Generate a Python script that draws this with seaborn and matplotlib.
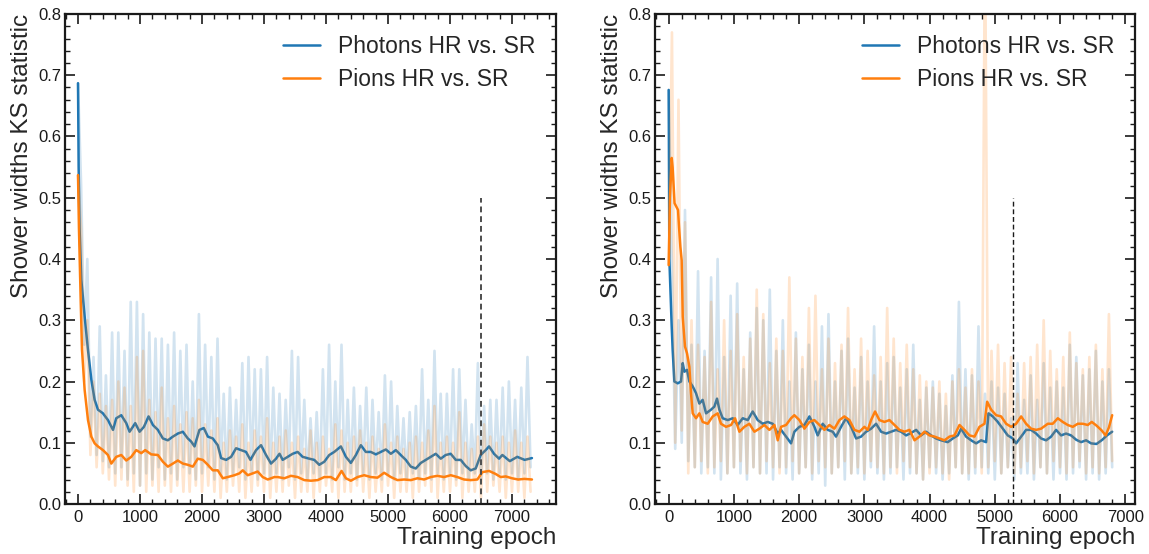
import numpy as np
import pandas as pd
import matplotlib
matplotlib.use("Agg")
import matplotlib.pyplot as plt
import seaborn as sns
from matplotlib.ticker import MultipleLocator

# ---------------- data ----------------
series_labels = ["Photons HR vs. SR", "Pions HR vs. SR"]
raw_step = 50  # epochs between consecutive raw samples (trough, peak, trough, ...)

# Left panel raw values: troughs at 0,100,...; peaks at 50,150,...
left_photon_troughs = [
    0.687, 0.26, 0.11, 0.08, 0.07, 0.06, 0.05, 0.06, 0.04, 0.05,
    0.03, 0.05, 0.04, 0.06, 0.04, 0.05, 0.04, 0.06, 0.05, 0.04,
    0.05, 0.06, 0.04, 0.05, 0.04, 0.05, 0.06, 0.04, 0.05, 0.04,
    0.05, 0.04, 0.05, 0.04, 0.06, 0.04, 0.05, 0.04, 0.05, 0.04,
    0.05, 0.04, 0.06, 0.04, 0.05, 0.04, 0.05, 0.04, 0.05, 0.04,
    0.05, 0.04, 0.05, 0.04, 0.05, 0.04, 0.05, 0.04, 0.05, 0.04,
    0.05, 0.04, 0.05, 0.04, 0.05, 0.04, 0.05, 0.04, 0.05, 0.04,
    0.05, 0.04, 0.05, 0.06]
left_photon_peaks = [
    0.52, 0.40, 0.24, 0.29, 0.21, 0.28, 0.28, 0.25, 0.33, 0.33,
    0.31, 0.28, 0.27, 0.27, 0.26, 0.28, 0.25, 0.26, 0.20, 0.31,
    0.26, 0.24, 0.27, 0.18, 0.19, 0.17, 0.23, 0.24, 0.22, 0.22,
    0.24, 0.19, 0.18, 0.17, 0.25, 0.24, 0.17, 0.14, 0.15, 0.22,
    0.26, 0.20, 0.26, 0.17, 0.19, 0.16, 0.19, 0.17, 0.15, 0.21,
    0.20, 0.16, 0.14, 0.15, 0.16, 0.22, 0.17, 0.25, 0.18, 0.18,
    0.22, 0.22, 0.17, 0.13, 0.23, 0.16, 0.17, 0.17, 0.19, 0.20,
    0.17, 0.19, 0.24]
left_pion_troughs = [
    0.537, 0.20, 0.08, 0.06, 0.05, 0.04, 0.03, 0.04, 0.03, 0.02,
    0.03, 0.02, 0.03, 0.02, 0.03, 0.02, 0.03, 0.02, 0.02, 0.03,
    0.02, 0.03, 0.02, 0.01, 0.02, 0.03, 0.02, 0.01, 0.02, 0.03,
    0.02, 0.01, 0.02, 0.02, 0.03, 0.01, 0.02, 0.02, 0.01, 0.02,
    0.03, 0.02, 0.01, 0.02, 0.02, 0.03, 0.02, 0.01, 0.02, 0.02,
    0.03, 0.01, 0.02, 0.02, 0.01, 0.02, 0.03, 0.02, 0.01, 0.02,
    0.02, 0.03, 0.01, 0.02, 0.02, 0.01, 0.02, 0.03, 0.02, 0.01,
    0.02, 0.02, 0.01, 0.02]
left_pion_peaks = [
    0.45, 0.30, 0.20, 0.18, 0.16, 0.17, 0.20, 0.19, 0.16, 0.24,
    0.25, 0.17, 0.15, 0.19, 0.14, 0.16, 0.13, 0.15, 0.14, 0.17,
    0.13, 0.12, 0.14, 0.10, 0.12, 0.11, 0.13, 0.10, 0.12, 0.11,
    0.14, 0.10, 0.11, 0.12, 0.10, 0.11, 0.09, 0.12, 0.10, 0.11,
    0.09, 0.13, 0.12, 0.10, 0.11, 0.12, 0.10, 0.11, 0.09, 0.13,
    0.10, 0.11, 0.09, 0.10, 0.11, 0.10, 0.12, 0.16, 0.10, 0.11,
    0.10, 0.15, 0.10, 0.09, 0.11, 0.13, 0.11, 0.10, 0.11, 0.10,
    0.12, 0.10, 0.11]

# Right panel raw values
right_photon_troughs = [
    0.676, 0.09, 0.10, 0.07, 0.06, 0.05, 0.06, 0.05, 0.04, 0.05,
    0.06, 0.05, 0.04, 0.06, 0.05, 0.05, 0.04, 0.06, 0.05, 0.04,
    0.05, 0.06, 0.04, 0.05, 0.03, 0.05, 0.06, 0.04, 0.05, 0.05,
    0.04, 0.06, 0.05, 0.04, 0.05, 0.06, 0.04, 0.05, 0.05, 0.04,
    0.06, 0.05, 0.04, 0.05, 0.06, 0.05, 0.04, 0.05, 0.06, 0.05,
    0.04, 0.05, 0.06, 0.04, 0.05, 0.05, 0.04, 0.06, 0.05, 0.04,
    0.05, 0.04, 0.05, 0.06, 0.04, 0.05, 0.04, 0.05, 0.06]
right_photon_peaks = [
    0.38, 0.30, 0.48, 0.26, 0.38, 0.25, 0.37, 0.40, 0.24, 0.34,
    0.36, 0.22, 0.28, 0.32, 0.30, 0.35, 0.25, 0.30, 0.20, 0.28,
    0.22, 0.26, 0.20, 0.29, 0.31, 0.20, 0.25, 0.27, 0.19, 0.24,
    0.20, 0.29, 0.20, 0.23, 0.24, 0.19, 0.22, 0.26, 0.17, 0.19,
    0.20, 0.18, 0.16, 0.21, 0.33, 0.22, 0.21, 0.29, 0.18, 0.20,
    0.19, 0.18, 0.14, 0.23, 0.17, 0.21, 0.17, 0.23, 0.19, 0.20,
    0.19, 0.26, 0.24, 0.21, 0.22, 0.25, 0.20, 0.22]
right_pion_troughs = [
    0.39, 0.10, 0.12, 0.05, 0.06, 0.07, 0.05, 0.06, 0.07, 0.05,
    0.06, 0.07, 0.05, 0.06, 0.05, 0.07, 0.06, 0.05, 0.06, 0.07,
    0.05, 0.06, 0.05, 0.07, 0.06, 0.05, 0.06, 0.07, 0.05, 0.06,
    0.05, 0.07, 0.06, 0.05, 0.06, 0.05, 0.07, 0.06, 0.05, 0.04,
    0.05, 0.06, 0.05, 0.04, 0.06, 0.05, 0.05, 0.06, 0.05, 0.06,
    0.07, 0.05, 0.06, 0.05, 0.06, 0.07, 0.05, 0.06, 0.05, 0.07,
    0.06, 0.05, 0.06, 0.07, 0.05, 0.06, 0.05, 0.06, 0.07]
right_pion_peaks = [
    0.77, 0.66, 0.46, 0.30, 0.26, 0.24, 0.33, 0.22, 0.30, 0.25,
    0.31, 0.24, 0.27, 0.35, 0.31, 0.23, 0.27, 0.25, 0.37, 0.27,
    0.24, 0.32, 0.34, 0.22, 0.27, 0.23, 0.26, 0.32, 0.22, 0.27,
    0.25, 0.21, 0.24, 0.32, 0.27, 0.23, 0.26, 0.22, 0.21, 0.20,
    0.19, 0.20, 0.18, 0.20, 0.22, 0.19, 0.22, 0.20, 0.95, 0.25,
    0.26, 0.23, 0.24, 0.18, 0.23, 0.24, 0.26, 0.30, 0.25, 0.22,
    0.24, 0.28, 0.23, 0.22, 0.24, 0.26, 0.22, 0.31]

# Smoothed curves (epoch, value)
left_photon_smooth_epoch = [0, 10, 25, 53, 107, 161, 215, 268, 322, 402, 483, 564, 617, 698, 778, 832, 923, 993,
    1063, 1138, 1208, 1288, 1369, 1449, 1530, 1610, 1691, 1771, 1825, 1879, 1959, 2029, 2094, 2174, 2254,
    2308, 2389, 2469, 2550, 2630, 2711, 2781, 2872, 2952, 3033, 3113, 3194, 3250, 3301, 3382, 3462, 3543,
    3623, 3730, 3811, 3891, 3972, 4053, 4133, 4240, 4321, 4401, 4482, 4562, 4643, 4723, 4804, 4884, 4965,
    5046, 5126, 5206, 5287, 5368, 5448, 5529, 5609, 5690, 5770, 5851, 5931, 6012, 6093, 6173, 6254, 6334,
    6415, 6495, 6576, 6630, 6710, 6791, 6845, 6965, 7085, 7204, 7322]
left_photon_smooth = [0.687, 0.55, 0.45, 0.366, 0.306, 0.251, 0.203, 0.170, 0.154, 0.148, 0.137, 0.121, 0.140,
    0.145, 0.132, 0.118, 0.132, 0.118, 0.126, 0.143, 0.129, 0.121, 0.107, 0.104, 0.110, 0.115, 0.118, 0.107,
    0.102, 0.094, 0.121, 0.124, 0.110, 0.107, 0.096, 0.075, 0.072, 0.077, 0.091, 0.088, 0.085, 0.072, 0.088,
    0.096, 0.080, 0.066, 0.074, 0.082, 0.072, 0.077, 0.082, 0.085, 0.077, 0.074, 0.072, 0.064, 0.069, 0.080,
    0.085, 0.094, 0.077, 0.067, 0.080, 0.096, 0.085, 0.085, 0.081, 0.085, 0.089, 0.082, 0.088, 0.080, 0.072,
    0.061, 0.058, 0.067, 0.072, 0.077, 0.082, 0.074, 0.080, 0.082, 0.072, 0.072, 0.062, 0.055, 0.058, 0.080,
    0.088, 0.094, 0.082, 0.074, 0.080, 0.070, 0.077, 0.072, 0.075]
left_pion_smooth_epoch = [0, 15, 43, 64, 107, 161, 215, 268, 322, 402, 483, 537, 617, 698, 778, 859, 939, 1020,
    1084, 1181, 1288, 1369, 1449, 1530, 1610, 1691, 1771, 1852, 1932, 2013, 2094, 2174, 2254, 2335, 2415,
    2523, 2603, 2657, 2738, 2818, 2898, 2979, 3060, 3167, 3221, 3328, 3435, 3543, 3650, 3757, 3865, 3972,
    4079, 4160, 4251, 4321, 4401, 4509, 4616, 4723, 4831, 4938, 5046, 5153, 5260, 5368, 5475, 5582, 5690,
    5797, 5904, 6012, 6119, 6227, 6334, 6441, 6522, 6630, 6737, 6818, 6900, 7000, 7100, 7200, 7322]
left_pion_smooth = [0.537, 0.45, 0.333, 0.252, 0.186, 0.137, 0.110, 0.099, 0.094, 0.088, 0.080, 0.066, 0.077,
    0.080, 0.071, 0.077, 0.088, 0.083, 0.088, 0.081, 0.080, 0.069, 0.061, 0.066, 0.071, 0.066, 0.064, 0.061,
    0.074, 0.072, 0.064, 0.055, 0.055, 0.042, 0.044, 0.047, 0.050, 0.055, 0.047, 0.050, 0.053, 0.044, 0.040,
    0.044, 0.044, 0.042, 0.046, 0.044, 0.039, 0.038, 0.039, 0.044, 0.044, 0.039, 0.054, 0.042, 0.038, 0.044,
    0.047, 0.044, 0.043, 0.051, 0.044, 0.039, 0.040, 0.039, 0.042, 0.040, 0.044, 0.046, 0.044, 0.047, 0.044,
    0.040, 0.039, 0.040, 0.052, 0.054, 0.049, 0.044, 0.045, 0.042, 0.040, 0.041, 0.040]

right_photon_smooth_epoch = [0, 10, 46, 61, 87, 138, 189, 215, 240, 281, 317, 368, 419, 470, 521, 573, 649, 700,
    741, 777, 828, 905, 982, 1058, 1135, 1212, 1288, 1365, 1442, 1518, 1595, 1672, 1723, 1800, 1876, 1927,
    2004, 2081, 2158, 2234, 2285, 2362, 2439, 2515, 2566, 2643, 2720, 2797, 2874, 2950, 3027, 3104, 3180,
    3257, 3334, 3410, 3487, 3564, 3640, 3717, 3794, 3870, 3947, 4024, 4100, 4177, 4279, 4356, 4433, 4484,
    4560, 4637, 4714, 4790, 4867, 4903, 4969, 5046, 5123, 5199, 5276, 5327, 5404, 5480, 5557, 5634, 5710,
    5787, 5864, 5940, 6017, 6093, 6170, 6247, 6323, 6400, 6477, 6560, 6650, 6720, 6800]
right_photon_smooth = [0.676, 0.40, 0.29, 0.251, 0.200, 0.197, 0.200, 0.230, 0.216, 0.219, 0.200, 0.192, 0.181,
    0.164, 0.170, 0.148, 0.154, 0.159, 0.172, 0.154, 0.140, 0.137, 0.140, 0.129, 0.140, 0.137, 0.151, 0.137,
    0.131, 0.134, 0.131, 0.115, 0.121, 0.110, 0.099, 0.118, 0.126, 0.129, 0.143, 0.126, 0.112, 0.131, 0.121,
    0.118, 0.110, 0.126, 0.140, 0.126, 0.107, 0.110, 0.118, 0.123, 0.131, 0.118, 0.115, 0.118, 0.121, 0.118,
    0.112, 0.116, 0.121, 0.112, 0.118, 0.112, 0.107, 0.104, 0.101, 0.107, 0.112, 0.123, 0.110, 0.104, 0.099,
    0.104, 0.101, 0.148, 0.143, 0.134, 0.123, 0.112, 0.107, 0.099, 0.110, 0.121, 0.121, 0.115, 0.107, 0.104,
    0.110, 0.121, 0.112, 0.115, 0.112, 0.105, 0.101, 0.104, 0.099, 0.098, 0.105, 0.112, 0.118]
right_pion_smooth_epoch = [0, 20, 46, 60, 90, 143, 158, 179, 199, 215, 250, 281, 317, 342, 368, 419, 470, 521,
    598, 675, 751, 802, 879, 956, 1017, 1084, 1160, 1237, 1314, 1390, 1467, 1544, 1621, 1672, 1723, 1800,
    1876, 1927, 2004, 2081, 2158, 2234, 2311, 2388, 2464, 2541, 2618, 2694, 2771, 2848, 2925, 3001, 3052,
    3103, 3164, 3231, 3308, 3385, 3462, 3538, 3615, 3692, 3769, 3845, 3922, 3998, 4075, 4152, 4228, 4305,
    4382, 4459, 4535, 4612, 4689, 4765, 4842, 4883, 4944, 5020, 5097, 5174, 5251, 5327, 5404, 5480, 5557,
    5634, 5710, 5813, 5889, 5966, 6042, 6119, 6196, 6272, 6349, 6426, 6487, 6560, 6640, 6700, 6750, 6800]
right_pion_smooth = [0.39, 0.50, 0.565, 0.55, 0.491, 0.480, 0.453, 0.42, 0.398, 0.306, 0.257, 0.246, 0.224,
    0.181, 0.148, 0.140, 0.148, 0.134, 0.131, 0.143, 0.148, 0.131, 0.126, 0.129, 0.140, 0.118, 0.126, 0.131,
    0.118, 0.123, 0.129, 0.121, 0.129, 0.104, 0.126, 0.129, 0.140, 0.145, 0.137, 0.123, 0.134, 0.137, 0.129,
    0.121, 0.129, 0.123, 0.137, 0.143, 0.137, 0.121, 0.118, 0.126, 0.121, 0.137, 0.151, 0.137, 0.134, 0.137,
    0.129, 0.121, 0.118, 0.121, 0.104, 0.110, 0.118, 0.112, 0.110, 0.107, 0.104, 0.110, 0.112, 0.129, 0.121,
    0.112, 0.110, 0.126, 0.131, 0.167, 0.154, 0.145, 0.143, 0.131, 0.126, 0.131, 0.143, 0.131, 0.123, 0.121,
    0.123, 0.131, 0.131, 0.140, 0.134, 0.129, 0.126, 0.131, 0.131, 0.129, 0.134, 0.128, 0.120, 0.112, 0.125,
    0.145]

left_marker_epoch = 6500
right_marker_epoch = 5275
marker_top = 0.5

xlims = [(-210, 7710), (-210, 7150)]
ylim = (0.0, 0.8)
x_label = "Training epoch"
y_label = "Shower widths KS statistic"

# ---------------- plotting ----------------
sns.set_theme(style="ticks")
plt.rcParams['font.family'] = ['Liberation Sans', 'DejaVu Sans']

colors = ["#1f77b4", "#ff7f0e"]


def zigzag(troughs, peaks):
    vals = np.empty(len(troughs) + len(peaks))
    vals[0::2] = troughs
    vals[1::2] = peaks
    ep = np.arange(len(vals)) * raw_step
    return pd.DataFrame({"epoch": ep, "ks": vals})


fig = plt.figure(figsize=(11.49, 5.54), dpi=100)
ax1 = fig.add_axes([65 / 1149, 50 / 554, 491 / 1149, 490 / 554])
ax2 = fig.add_axes([655 / 1149, 50 / 554, 480 / 1149, 490 / 554])

panels = [
    (ax1,
     [(left_photon_troughs, left_photon_peaks, left_photon_smooth_epoch, left_photon_smooth),
      (left_pion_troughs, left_pion_peaks, left_pion_smooth_epoch, left_pion_smooth)],
     left_marker_epoch, dict(colors="0.3", linestyles=(0, (3, 2)), lw=1.4)),
    (ax2,
     [(right_photon_troughs, right_photon_peaks, right_photon_smooth_epoch, right_photon_smooth),
      (right_pion_troughs, right_pion_peaks, right_pion_smooth_epoch, right_pion_smooth)],
     right_marker_epoch, dict(colors="k", linestyles=(0, (3.5, 2)), lw=1.0)),
]

for (ax, series, marker, vstyle), xl in zip(panels, xlims):
    for (tr, pk, sep, sval), c, lab in zip(series, colors, series_labels):
        raw = zigzag(tr, pk)
        sns.lineplot(data=raw, x="epoch", y="ks", ax=ax, color=c, alpha=0.2, lw=1.9,
                     estimator=None, sort=False)
        sm = pd.DataFrame({"epoch": sep, "ks": sval})
        sns.lineplot(data=sm, x="epoch", y="ks", ax=ax, color=c, lw=1.8, label=lab,
                     estimator=None, sort=False)
    ax.vlines(marker, ylim[0], marker_top, **vstyle)

    ax.set_xlim(*xl)
    ax.set_ylim(*ylim)
    ax.yaxis.set_major_locator(MultipleLocator(0.1))
    ax.yaxis.set_minor_locator(MultipleLocator(0.02))
    ax.xaxis.set_major_locator(MultipleLocator(1000))
    ax.xaxis.set_minor_locator(MultipleLocator(200))
    ax.tick_params(which="both", direction="in", top=True, right=True, labelsize=12, colors="k")
    ax.tick_params(which="major", length=7, width=1.2)
    ax.tick_params(which="minor", length=3.5, width=1.0)
    ax.tick_params(axis="y", pad=2.5)
    ax.tick_params(axis="x", pad=4)
    for s in ax.spines.values():
        s.set_linewidth(1.6)
        s.set_color("k")
    ax.set_xlabel(x_label, fontsize=17.5, loc="right", labelpad=2)
    ax.set_ylabel(y_label, fontsize=17.5, loc="top", labelpad=4)
    ax.legend(loc="upper right", frameon=False, fontsize=16.5, handlelength=1.6,
              handletextpad=0.8, labelspacing=0.45)

fig.savefig("out.png", dpi=100)
